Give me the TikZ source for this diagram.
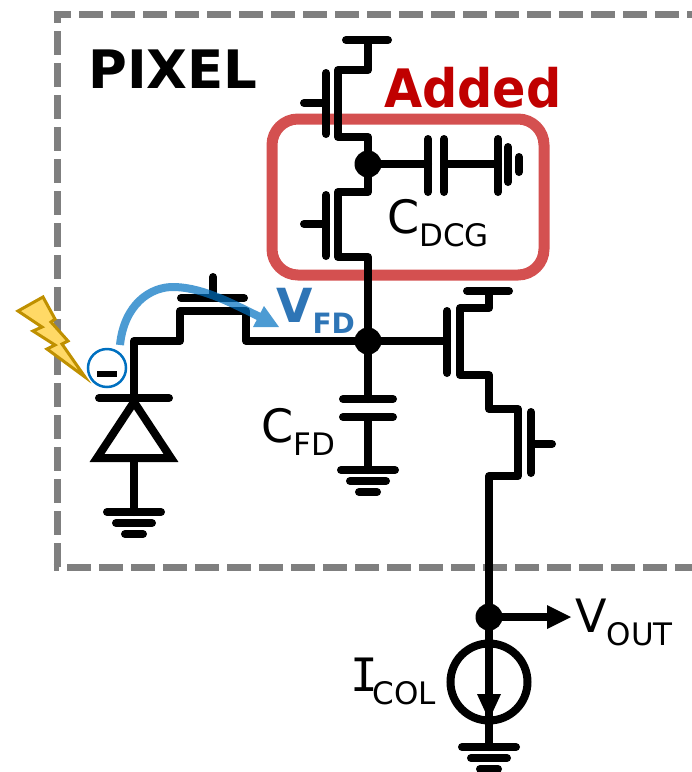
\documentclass[tikz,border=0pt]{standalone}
\usepackage{fontspec}
\setmainfont{DejaVu Sans}
\newfontfamily\monofont{DejaVu Sans Mono}
\definecolor{framegray}{HTML}{7F7F7F}
\definecolor{addedred}{HTML}{C00000}
\definecolor{boxred}{HTML}{D45050}
\definecolor{fdblue}{HTML}{2E75B6}
\definecolor{arrowblue}{HTML}{0070C0}
\definecolor{boltfill}{HTML}{FFD966}
\definecolor{boltline}{HTML}{BF9000}
\newcommand{\labelsub}[2]{#1\raisebox{-13pt}{\fontsize{31}{31}\selectfont #2}}
\tikzset{
  wire/.style={line width=8pt,line cap=round,line join=round},
  frameline/.style={framegray,line width=7pt},
  dot/.style={circle,fill=black,inner sep=0pt,minimum size=27pt},
  lbl/.style={anchor=base west,inner sep=0pt,font=\fontsize{46}{46}\selectfont},
  gnd/.pic={
    \draw[wire] (-27,0) -- (27,0);
    \draw[wire] (-18,11) -- (18,11);
    \draw[wire] (-9,22) -- (9,22);
  }
}
\begin{document}
\begin{tikzpicture}[x=1pt,y=-1pt]
      \useasboundingbox (0,0) rectangle (692,772);
      % frame and highlight
      \draw[frameline,dash pattern=on 24pt off 8pt,dash phase=6.5pt] (53.5,14) -- (692,14);
      \draw[frameline,dash pattern=on 24pt off 8pt,dash phase=15pt] (57,14) -- (57,567);
      \draw[frameline,dash pattern=on 24pt off 8pt,dash phase=18.5pt] (53.5,567) -- (692,567);
      \draw[boxred,line width=11pt,rounded corners=26pt] (272,119) rectangle (544,275);
      \draw
        (368,40) coordinate (vdd)
        (346,40) coordinate (vddl)
        (388,40) coordinate (vddr)
        (368,70) coordinate (ma)
        (338,70) coordinate (mb)
        (338,137) coordinate (mc)
        (368,137) coordinate (md)
        (368,192) coordinate (me)
        (338,192) coordinate (mf)
        (338,257) coordinate (mg)
        (368,257) coordinate (mh)
        (368,341) coordinate (fd)
        (368,164) coordinate (dcg)
        (134,398) coordinate (cath)
        (134,341) coordinate (ta)
        (180,341) coordinate (tb)
        (180,311) coordinate (tc)
        (246,311) coordinate (td)
        (246,341) coordinate (te)
        (447,341) coordinate (sfg)
        (460,308) coordinate (sa)
        (489,308) coordinate (sb)
        (489,291) coordinate (sc)
        (460,375) coordinate (sd)
        (489,375) coordinate (se)
        (489,409) coordinate (sf)
        (518,409) coordinate (sg)
        (518,476) coordinate (sh)
        (489,476) coordinate (si)
        (489,617) coordinate (out)
        (489,747) coordinate (gndc);
      \begin{scope}[wire]
        \draw (vddl) to (vddr);
        \draw (vdd) -- (ma) -- (mb) -- (mc) -- (md) -- (me) -- (mf) -- (mg) -- (mh) -- (fd);
        \draw (326,73) -- (326,134);
        \draw (304,103) -- (326,103);
        \draw (326,195) -- (326,256);
        \draw (304,224) -- (326,224);
        \draw (dcg) -- (428,164);
        \draw (428,139) -- (428,192);
        \draw (444,139) -- (444,192);
        \draw (444,164) -- (498,164);
        \draw (498,139) -- (498,192);
        \draw (508,147) -- (508,182);
        \draw (519,157) -- (519,172);
        \draw (cath) -- (ta) -- (tb) -- (tc) -- (td) -- (te) -- (fd) -- (sfg);
        \draw (181,298) -- (244,298);
        \draw (213,277) -- (213,298);
        \draw (99,398) -- (169,398);
        \draw[line join=miter] (134,402) -- (171,458) -- (97,458) -- cycle;
        \draw (134,458) -- (134,512);
        \draw (fd) -- (368,399);
        \draw (343,399) -- (393,399);
        \draw (343,417) -- (393,417);
        \draw (368,417) -- (368,470);
        \draw (447,311) -- (447,373);
        \draw (sc) -- (sb) -- (sa) -- (sd) -- (se) -- (sf) -- (sg) -- (sh) -- (si) -- (gndc);
        \draw (467,291) -- (509,291);
        \draw (531,412) -- (531,473);
        \draw (531,444) -- (552,444);
      \end{scope}
      \pic at (134,512) {gnd};
      \pic at (368,470) {gnd};
      \pic at (489,747) {gnd};
      \draw[wire,line cap=butt] (out) -- (548,617);
      \fill (547,605) -- (571,617) -- (547,629) -- cycle;
      \draw[line width=8pt] (489,682) circle (38.5);
      \fill (477,694) -- (501,694) -- (489,720) -- cycle;
      \node[dot] (n1) at (dcg) {};
      \node[dot] (n2) at (fd) {};
      \node[dot] (n3) at (out) {};
      % photo charge
      \draw[boltline,fill=boltfill,line width=3pt,line join=miter]
        (18,311) -- (43,297) -- (55,319) -- (51,322) -- (68,341) -- (62,344) -- (85,377)
        -- (47,349) -- (55,345) -- (33,331) -- (42,327) -- cycle;
      \node[circle,draw=arrowblue,line width=2.5pt,inner sep=0pt,minimum size=38pt] (e) at (107,368) {};
      \fill (97,371) rectangle (117,377);
      \begin{scope}[transparency group,opacity=.7]
        \draw[arrowblue,line width=8pt] (120,345) .. controls (124,305) and (150,286) .. (175,287)
          .. controls (205,288) and (235,305) .. (262,318);
        \fill[arrowblue] (253,327) -- (264,306) -- (279,327) -- cycle;
      \end{scope}
      % labels
      \node[anchor=base west,inner sep=0pt,font=\fontsize{53}{53}\selectfont\bfseries] (pix) at (88,88) {PIXEL};
      \node[anchor=base west,inner sep=0pt,text=addedred,font=\fontsize{53}{53}\selectfont\bfseries] (add) at (384,107)
        {\scalebox{.93}[1]{Added}};
      \node[anchor=base west,inner sep=0pt,text=fdblue,font=\fontsize{47}{47}\selectfont\bfseries] (vfd) at (276,322)
        {V\raisebox{-11pt}{\fontsize{28}{28}\selectfont FD}};
      \node[lbl] (cdcg) at (387,233) {\labelsub{C}{DCG}};
      \node[lbl] (cfd) at (261,442) {\labelsub{C}{FD}};
      \node[lbl] (vout) at (575,632) {\labelsub{V}{OUT}};
      \node[lbl] (icol) at (350,691) {\labelsub{{\monofont I}\hspace{-5pt}}{COL}};
    \end{tikzpicture}
\end{document}
